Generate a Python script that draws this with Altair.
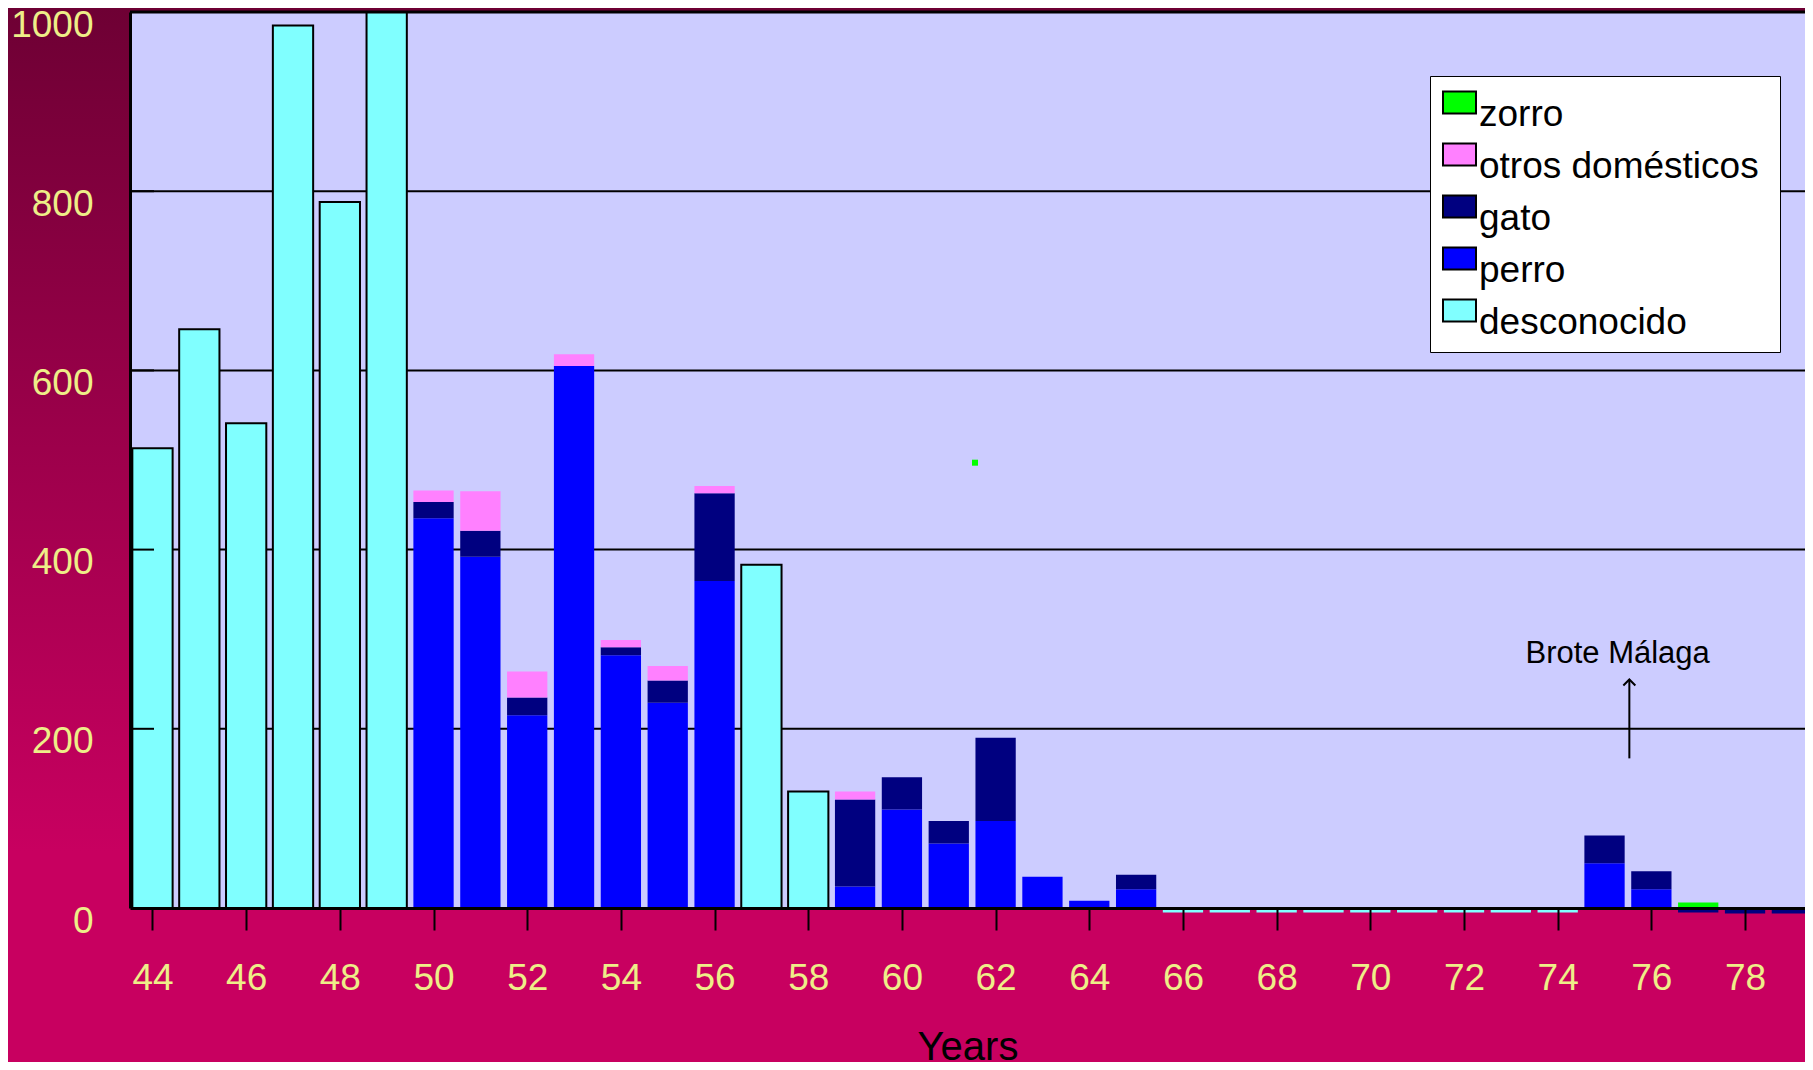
import altair as alt
import pandas as pd

# ---------------- data ----------------
years = list(range(44, 80))
desconocido = [513, 646, 541, 985, 788, 1000] + [0] * 7 + [383, 130] + [0] * 7 + [-5] * 9 + [0] * 5
perro = [0] * 6 + [435, 392, 215, 605, 282, 229, 365] + [0, 0] + [24, 110, 72, 97, 35, 8, 21] + [0] * 9 + [50, 21, 0, 0, 0]
gato = [0] * 6 + [18, 29, 20, 0, 9, 25, 98] + [0, 0] + [97, 36, 25, 93, 0, 0, 16] + [0] * 9 + [31, 20, -5, -6, -6]
otros = [0] * 6 + [13, 44, 29, 13, 8, 16, 8] + [0, 0] + [9, 0, 0, 0, 0, 0, 0] + [0] * 9 + [0] * 5
zorro = [0] * 33 + [6, 0, 0]

series_names = ["desconocido", "perro", "gato", "otros domésticos", "zorro"]
legend_order = ["zorro", "otros domésticos", "gato", "perro", "desconocido"]
legend_colors = ["#00FF00", "#FF80FF", "#000080", "#0000FF", "#80FFFF"]

y_ticks = [0, 200, 400, 600, 800, 1000]
grid_values = [200, 400, 600, 800]
x_ticks = list(range(44, 80, 2))

stray_year = [61.56]
stray_value = [497]

note_text = ["Brote Málaga"]
note_year = [75.28]
note_value = [273]
arrow_year = [75.53]
arrow_from = [167]
arrow_to = [255]

# ---------------- tables ----------------
rows = []
for order, (name, vals) in enumerate(zip(series_names, [desconocido, perro, gato, otros, zorro])):
    for yr, v in zip(years, vals):
        rows.append({"yr": yr, "v": v, "series": name, "ord": order})
df = pd.DataFrame(rows)

W, H = 1675, 896
PAD = {"left": 122, "top": 4, "right": 0, "bottom": 154}
FONT = "Liberation Sans"
YELLOW = "#EEEE88"

xscale = alt.Scale(domain=[43.52, 79.28], nice=False, zero=False)
yscale = alt.Scale(domain=[0, 1000], nice=False)

xaxis = alt.Axis(
    title="Years", values=x_ticks, format="d", grid=False, zindex=1,
    labelColor=YELLOW, labelFontSize=37, labelFont=FONT, labelPadding=30, labelFlush=False,
    labelOverlap=False, tickSize=22, tickWidth=2, tickColor="black",
    domainColor="black", domainWidth=3,
    titleFontSize=40, titleFont=FONT, titleFontWeight="normal", titleColor="black",
    titleY=151, titleBaseline="alphabetic",
)
yaxis = alt.Axis(
    title=None, values=y_ticks, format="d", grid=False, zindex=1, ticks=False,
    labelColor=YELLOW, labelFontSize=37, labelFont=FONT, labelPadding=37, labelOffset=13,
    labelFlush=False, labelOverlap=False, domainColor="black", domainWidth=3,
)

one = pd.DataFrame({"k": [0]})

gradient = alt.LinearGradient(
    gradient="linear",
    stops=[alt.GradientStop(color="#6E0034", offset=0),
           alt.GradientStop(color="#C80060", offset=0.8),
           alt.GradientStop(color="#C80060", offset=1)],
    x1=0, x2=0, y1=0, y2=1,
)

bg = alt.Chart(one).mark_rect(fill=gradient).encode(
    x=alt.value(-PAD["left"]), x2=alt.value(W), y=alt.value(-PAD["top"]), y2=alt.value(H + PAD["bottom"])
)
plotbg = alt.Chart(one).mark_rect(fill="#CCCCFF").encode(
    x=alt.value(0), x2=alt.value(W), y=alt.value(0), y2=alt.value(H)
)

grid = alt.Chart(pd.DataFrame({"v": grid_values})).mark_rule(color="black", strokeWidth=2).encode(
    y=alt.Y("v:Q", scale=yscale, axis=yaxis)
)

# invisible spacer title: widens the legend frame and pushes the entries down a little
legend_spacer = "0" * 147

bars = (
    alt.Chart(df)
    .transform_filter("datum.v != 0")
    .transform_stack(stack="v", groupby=["yr"], as_=["y0", "y1"],
                     sort=[alt.SortField(field="ord", order="ascending")])
    .transform_calculate(xa="datum.yr - 0.43", xb="datum.yr + 0.43")
    .mark_rect(stroke="black")
    .encode(
        x=alt.X("xa:Q", scale=xscale, axis=xaxis),
        x2="xb:Q",
        y=alt.Y("y0:Q", scale=yscale, axis=yaxis),
        y2="y1:Q",
        color=alt.Color(
            "series:N",
            scale=alt.Scale(domain=legend_order, range=legend_colors),
            legend=alt.Legend(
                title=legend_spacer, titleFontSize=4, titlePadding=5, titleLimit=2000,
                titleOpacity=0,
                orient="none", legendX=1300, legendY=64,
                fillColor="white", strokeColor="black", padding=11, rowPadding=6,
                symbolType="M-1,-1.394L1,-1.394L1,-0.061L-1,-0.061Z", symbolSize=1089,
                symbolStrokeColor="black", symbolStrokeWidth=2, symbolOpacity=1,
                labelFontSize=37, labelFont=FONT, labelColor="black", labelLimit=600,
                labelOffset=1,
            ),
        ),
        strokeWidth=alt.condition("datum.series == 'desconocido' && datum.v > 0", alt.value(2), alt.value(0)),
    )
)

topline = alt.Chart(pd.DataFrame({"v": [1000]})).mark_rule(color="black", strokeWidth=3).encode(
    y=alt.Y("v:Q", scale=yscale, axis=yaxis)
)
inticks = alt.Chart(pd.DataFrame({"v": grid_values})).mark_rule(color="black", strokeWidth=2).encode(
    y=alt.Y("v:Q", scale=yscale, axis=yaxis), x=alt.value(0), x2=alt.value(24)
)

stray = alt.Chart(pd.DataFrame({"yr": stray_year, "v": stray_value})).mark_square(
    size=36, color="#00FF00", opacity=1
).encode(x=alt.X("yr:Q", scale=xscale, axis=xaxis), y=alt.Y("v:Q", scale=yscale, axis=yaxis))

arrow_df = pd.DataFrame({"yr": arrow_year, "v": arrow_from, "v2": arrow_to})
arrow_line = alt.Chart(arrow_df).mark_rule(color="black", strokeWidth=2).encode(
    x=alt.X("yr:Q", scale=xscale, axis=xaxis), y=alt.Y("v:Q", scale=yscale, axis=yaxis), y2="v2:Q"
)
arrow_head = alt.Chart(arrow_df).mark_point(
    shape="M-1,1L0,0L1,1", size=144, filled=False, stroke="black", strokeWidth=2, opacity=1
).encode(x=alt.X("yr:Q", scale=xscale, axis=xaxis), y=alt.Y("v2:Q", scale=yscale, axis=yaxis))

note = alt.Chart(pd.DataFrame({"yr": note_year, "v": note_value, "t": note_text})).mark_text(
    fontSize=31, font=FONT, color="black", align="center", baseline="alphabetic"
).encode(x=alt.X("yr:Q", scale=xscale, axis=xaxis), y=alt.Y("v:Q", scale=yscale, axis=yaxis), text="t:N")

chart = (
    alt.layer(bg, plotbg, grid, bars, topline, inticks, stray, arrow_line, arrow_head, note)
    .properties(width=W, height=H, autosize=alt.AutoSizeParams(type="none"), padding=PAD)
    .configure_view(strokeWidth=0)
    .configure(font=FONT)
)

chart.save("out.html", embed_options={"renderer": "svg", "actions": False})
